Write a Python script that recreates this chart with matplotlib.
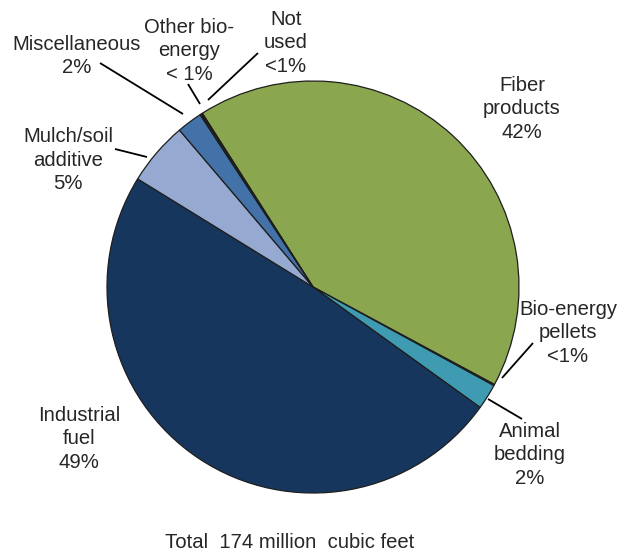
import matplotlib
matplotlib.use("Agg")
import matplotlib.pyplot as plt

# Uses of residue wood (share of total volume, %)
categories = ["Fiber products", "Bio-energy pellets", "Animal bedding",
              "Industrial fuel", "Mulch/soil additive", "Miscellaneous",
              "Other bio-energy", "Not used"]
shares = [42, 0.1, 2, 49, 5, 2, 0.1, 0.1]
label_texts = ["Fiber\nproducts\n42%", "Bio-energy\npellets\n<1%", "Animal\nbedding\n2%",
               "Industrial\nfuel\n49%", "Mulch/soil\nadditive\n5%", "Miscellaneous\n2%",
               "Other bio-\nenergy\n< 1%", "Not\nused\n<1%"]
colors = ["#8aa64f", "#1e1e1e", "#3e9bb1", "#17365d", "#95a9d1", "#4372a8",
          "#1e1e1e", "#1e1e1e"]
footer = "Total  174 million  cubic feet"

W, H = 635, 552
CX, CY, R = 313, 287, 206

fig = plt.figure(figsize=(W / 100, H / 100), dpi=100)
ax = fig.add_axes([(CX - R) / W, (H - CY - R) / H, 2 * R / W, 2 * R / H])

ax.pie(shares, colors=colors, startangle=122.5, counterclock=False, radius=1,
       wedgeprops=dict(edgecolor="#1e1e1e", linewidth=0.9))
ax.set_xlim(-1, 1)
ax.set_ylim(-1, 1)
ax.axis("off")


def px(x, y):
    """Pixel position in the figure -> data coordinates of the pie axes."""
    return ((x - CX) / R, (CY - y) / R)


text_color = "#262626"
font = dict(family=["Liberation Sans", "DejaVu Sans"], fontsize=14.6, color=text_color)

# label centre and leader line (start, end) per category, in pixels
label_pos = [(522, 109), (568, 333), (530, 455), (79, 439), (68, 160),
             (77, 56), (189, 51), (286, 43)]
leaders = [None,
           ((533, 343), (502, 378)),
           ((522, 419), (488, 399)),
           None,
           ((115, 149), (147, 157)),
           ((100, 63), (183, 114)),
           ((188, 84), (200, 104)),
           ((258, 53), (208, 100))]

for txt, (lx, ly), ld in zip(label_texts, label_pos, leaders):
    ax.text(*px(lx, ly), txt, ha="center", va="center", linespacing=1.33,
            clip_on=False, **font)
    if ld is not None:
        (x0, y0), (x1, y1) = px(*ld[0]), px(*ld[1])
        ax.plot([x0, x1], [y0, y1], color="black", lw=1.3, clip_on=False,
                solid_capstyle="butt")

fig.text(290 / W, 1 - 542 / H, footer, ha="center", va="center", **font)

fig.savefig("out.png", dpi=100, facecolor="white")
